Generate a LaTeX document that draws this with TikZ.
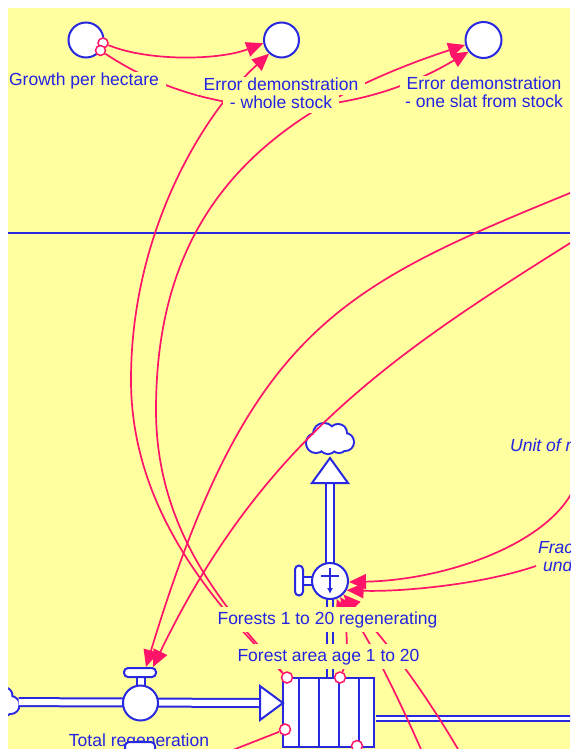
\documentclass[tikz,border=0pt]{standalone}
\usepackage{fontspec}
\setmainfont{Liberation Sans}
\usetikzlibrary{arrows.meta}
\definecolor{bgy}{RGB}{255,255,160}
\definecolor{sdblue}{RGB}{40,40,225}
\definecolor{txtblue}{RGB}{35,35,225}
\definecolor{lnk}{RGB}{255,20,105}
\newcommand\lbox[1]{{\setlength\fboxsep{0pt}\colorbox{bgy}{\rule[-4.75pt]{0pt}{18.2pt}\hspace{7pt}#1\hspace{7pt}}}}
\begin{document}
\begin{tikzpicture}[x=1pt,y=-1pt,
  lab/.style={font=\fontsize{17.5}{18.2}\selectfont, text=txtblue, inner sep=0pt},
  lab1/.style={lab, fill=bgy, inner xsep=7pt, inner ysep=0pt, text height=18pt, text depth=7pt},
  ilab/.style={lab, font=\fontsize{17.5}{18.2}\selectfont\itshape},
  shp/.style={draw=sdblue, fill=white, line width=2pt},
  varc/.style={circle, shp, minimum size=35pt, inner sep=0pt},
  src/.style={circle, draw=lnk, fill=white, line width=1.5pt, minimum size=10pt, inner sep=0pt},
  link/.style={draw=lnk, line width=1.7pt, -{Triangle[length=17pt,width=15pt]}},
  plainlink/.style={draw=lnk, line width=1.7pt},
  pipe/.style={draw=sdblue, line width=2pt, double=white, double distance=6pt},
  ypipe/.style={draw=sdblue, line width=2pt, double=bgy, double distance=4pt},
  valvebar/.style={shp, rounded corners=4pt, minimum width=32pt, minimum height=9pt, inner sep=0pt},
  cloudbox/.style={minimum width=46pt, minimum height=29pt, inner sep=0pt},
  sdcloud/.pic={
    \foreach \cx/\cy/\r in {-14/4/9,-6/-5/10,8/-6/8,15/3/8,-2/6/8,9/6/7}
      \draw[sdblue, line width=4pt] (\cx,\cy) circle (\r pt);
    \foreach \cx/\cy/\r in {-14/4/9,-6/-5/10,8/-6/8,15/3/8,-2/6/8,9/6/7}
      \fill[white] (\cx,\cy) circle (\r pt);
  },
]
\fill[white] (0,0) rectangle (570,749);
\useasboundingbox (0,0) rectangle (570,749);
\begin{scope}
\clip (8,8) rectangle (570,749);
\fill[bgy] (8,8) rectangle (570,749);
\draw[sdblue, line width=1.8pt] (8,233) -- (570,233);

% variables at the top
\node[varc] (c1) at (86,40) {};
\node[varc] (c2) at (281.5,40) {};
\node[varc, minimum size=36pt] (c3) at (483.5,40) {};

% stock
\node[shp, minimum width=91pt, minimum height=69pt, inner sep=0pt] (stock) at (328.5,712.5) {};
\foreach \dx in {299,319,339,359} \draw[sdblue, line width=2pt] (\dx,678) -- (\dx,747);

% left inflow
\node[cloudbox] (cloudL) at (-4.5,702) {};
\pic at (-4.5,702) {sdcloud};
\coordinate (tlBase) at (260,703);
\draw[pipe] (cloudL) -- (tlBase);
\draw[shp] (137,676) rectangle (145,688);
\node[varc] (trv) at (140.5,703) {};
\node[valvebar] (trbar) at (140,672.5) {};
\draw[shp] (tlBase) -- (260,686) -- (283,703) -- (260,720) -- cycle;

% vertical outflow
\coordinate (fvc) at (330,581);
\coordinate (vpBot) at (330,677);
\coordinate (ttBase) at (330,483);
\draw[ypipe] (vpBot) -- (fvc);
\draw[pipe] (fvc) -- (ttBase);
\draw[shp] (302,577) rectangle (313,585);
\node[varc, minimum size=36pt] (fv) at (fvc) {};
\node[valvebar, minimum width=8pt, minimum height=30pt] (fvbar) at (299,580.5) {};
\draw[sdblue, line width=1.6pt] (321,576) -- (339,576);
\draw[sdblue, line width=1.6pt, -{Latex[length=6pt,width=6pt]}] (330,568) -- (330,594);
\draw[shp] (ttBase) -- (312,483) -- (330,458) -- (348,483) -- cycle;
\node[cloudbox] (cloudT) at (330,439) {};
\pic at (330,439) {sdcloud};

% right outflow
\draw[pipe, double distance=3.5pt] ([xshift=1pt,yshift=-6pt]stock.east) -- ++(210,0);

% link sources
\node[src] (g1) at (103,43) {};
\node[src] (g2) at (100.5,50.5) {};
\node[src, minimum size=11pt] (s1) at (287,677.5) {};
\node[src, minimum size=11pt] (s2) at (340,677.5) {};
\node[src, minimum size=11pt] (s3) at (285,729.5) {};
\node[src, minimum size=11pt] (s4) at (357,746) {};

% links
\draw[link] (g1) .. controls (150,62) and (220,60) .. (c2.190);
\draw[link] (g2) .. controls (211,124) and (349,123) .. (c3.218);
\draw[link] (s1) .. controls (215,605) and (131,510) .. (131,380) .. controls (131,230) and (205,112) .. (c2.228);
\draw[link] (s1) .. controls (224,608) and (156,530) .. (156,410) .. controls (156,210) and (265,111) .. (c3.195);
\coordinate (r1src) at (575,191);
\coordinate (r2src) at (575,240);
\coordinate (trA) at ([xshift=6pt]trbar.north);
\coordinate (trB) at ([xshift=13pt]trbar.north);
\draw[link] (r1src) .. controls (340,287) and (249,328) .. (trA);
\draw[link] (r2src) .. controls (400,350) and (263.5,438) .. (trB);
\coordinate (u1src) at (578,478);
\coordinate (u2src) at (536,566);
\coordinate (b1src) at (430,770);
\coordinate (b2src) at (470,770);
\coordinate (s3dst) at (220,755);
\draw[link] (u1src) .. controls (560,540) and (450,580) .. (fv.-3);
\draw[link] (u2src) .. controls (480,585) and (400,592) .. (fv.-29);
\draw[link] (b1src) .. controls (400,700) and (370,640) .. (fv.-58);
\draw[link] (b2src) .. controls (425,690) and (385,640) .. (fv.-45);
\draw[link] (s2) .. controls (350,655) and (346,620) .. (fv.-70);
\draw[plainlink] (s3) -- (s3dst);

% labels
\node[lab, anchor=north, align=center] (lblGrowth) at (84,72) {\lbox{Growth per hectare}};
\node[lab, anchor=north, align=center] (lblW) at (281,76.5) {\lbox{Error demonstration}\\\lbox{- whole stock}};
\node[lab, anchor=north, align=center] (lblO) at (484,76) {\lbox{Error demonstration}\\\lbox{- one slat from stock}};
\node[lab1, anchor=base] (lblFlow) at (327.5,624.5) {Forests 1 to 20 regenerating};
\node[lab1, anchor=base] (lblStock) at (328.5,661.7) {Forest area age 1 to 20};
\node[lab1, anchor=base] (lblTR) at (139,746.5) {Total regeneration};
\node[valvebar, minimum width=30pt, minimum height=14pt] (bar2) at (140,749) {};
\node[ilab, anchor=base west] (lblUnit) at (510,451.7) {Unit of m};
\node[ilab, anchor=base west] (lblFrac) at (538,553.3) {Frac};
\node[ilab, anchor=base west] (lblUnd) at (543,571.7) {und};
\end{scope}
\end{tikzpicture}
\end{document}
